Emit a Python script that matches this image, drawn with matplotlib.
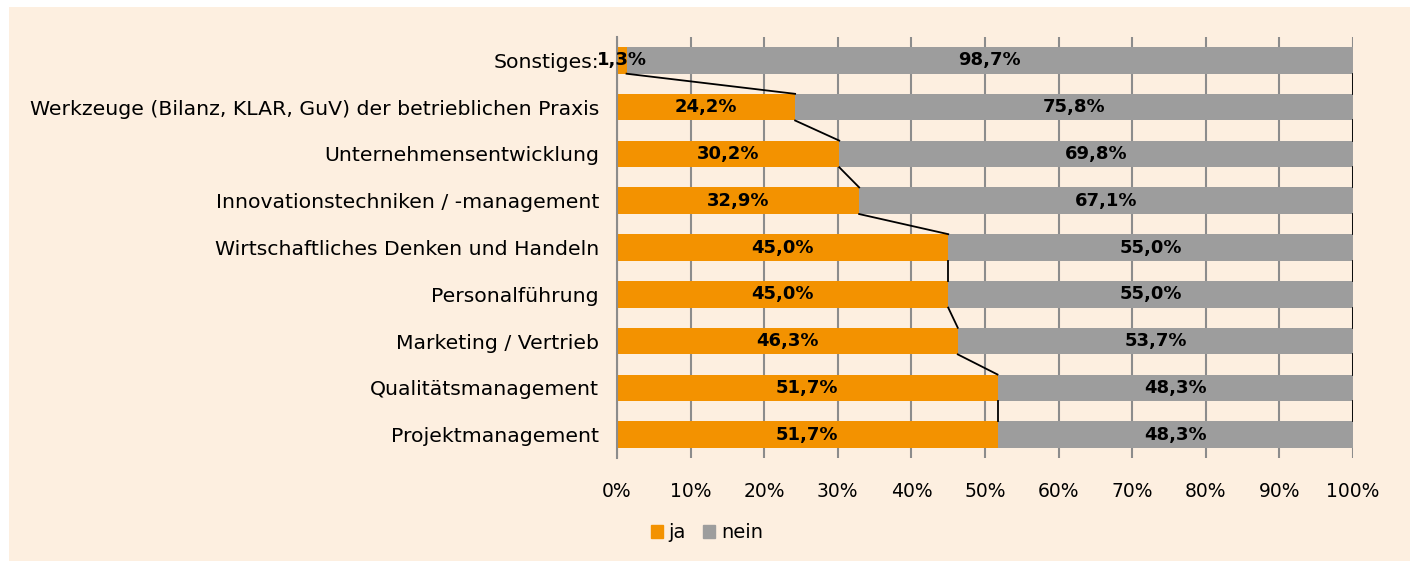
import matplotlib
matplotlib.use("Agg")
import matplotlib.pyplot as plt
from matplotlib.patches import Rectangle, Patch

# data (top to bottom)
categories = [
    "Sonstiges:",
    "Werkzeuge (Bilanz, KLAR, GuV) der betrieblichen Praxis",
    "Unternehmensentwicklung",
    "Innovationstechniken / -management",
    "Wirtschaftliches Denken und Handeln",
    "Personalführung",
    "Marketing / Vertrieb",
    "Qualitätsmanagement",
    "Projektmanagement",
]
ja = [1.3, 24.2, 30.2, 32.9, 45.0, 45.0, 46.3, 51.7, 51.7]
nein = [98.7, 75.8, 69.8, 67.1, 55.0, 55.0, 53.7, 48.3, 48.3]
xticks = [0, 10, 20, 30, 40, 50, 60, 70, 80, 90, 100]

orange = "#F39200"
grey = "#9D9D9D"
bg = "#FDEFE0"

plt.rcParams['font.family'] = ['DejaVu Sans']
fs = 13.5

fig = plt.figure(figsize=(14.14, 5.61), dpi=100, facecolor="white")
fig.patches.append(Rectangle((9 / 1414, 0), 1401 / 1414, 1 - 7 / 561,
                             transform=fig.transFigure, facecolor=bg,
                             edgecolor="none", zorder=-10))
ax = fig.add_axes([617 / 1414, 1 - 458 / 561, 736 / 1414, 421 / 561])
ax.set_facecolor(bg)

pos = list(range(len(categories)))
h = 0.57
ax.barh(pos, ja, height=h, color=orange, zorder=2)
ax.barh(pos, nein, left=ja, height=h, color=grey, zorder=2)

# series lines between bars
for i in range(len(pos) - 1):
    ax.plot([ja[i], ja[i + 1]], [pos[i] + h / 2, pos[i + 1] - h / 2],
            color="black", lw=1.3, zorder=3)
    ax.plot([100, 100], [pos[i] + h / 2, pos[i + 1] - h / 2],
            color="black", lw=1.3, zorder=3)

# data labels
for i in pos:
    ax.text(ja[i] / 2, i, f"{ja[i]:.1f}%".replace(".", ","), ha="center",
            va="center", fontsize=13, fontweight="bold", zorder=4)
    ax.text(ja[i] + nein[i] / 2, i, f"{nein[i]:.1f}%".replace(".", ","),
            ha="center", va="center", fontsize=13, fontweight="bold", zorder=4)

ax.set_xlim(0, 100)
ax.set_ylim(len(pos) - 0.5, -0.5)
ax.set_xticks(xticks)
ax.set_xticklabels([f"{t}%" for t in xticks])
ax.set_yticks(pos)
ax.set_yticklabels(categories)
ax.tick_params(axis="both", length=0, labelsize=fs)
ax.tick_params(axis="x", pad=17)
ax.tick_params(axis="y", pad=13, labelsize=14.7)
ax.grid(axis="x", color="#8C8C8C", lw=1.5, zorder=1)
ax.set_axisbelow(True)
for s in ["top", "right", "bottom"]:
    ax.spines[s].set_visible(False)
ax.spines["left"].set_color("#8C8C8C")
ax.spines["left"].set_linewidth(1.5)

handles = [Patch(color=orange, label="ja"), Patch(color=grey, label="nein")]
fig.legend(handles=handles, loc="center", bbox_to_anchor=(0.5, 1 - 533 / 561),
           ncol=2, frameon=False, fontsize=14, handlelength=0.6,
           handleheight=0.6, handletextpad=0.3, columnspacing=0.9)

fig.savefig("out.png", dpi=100, facecolor="white")
